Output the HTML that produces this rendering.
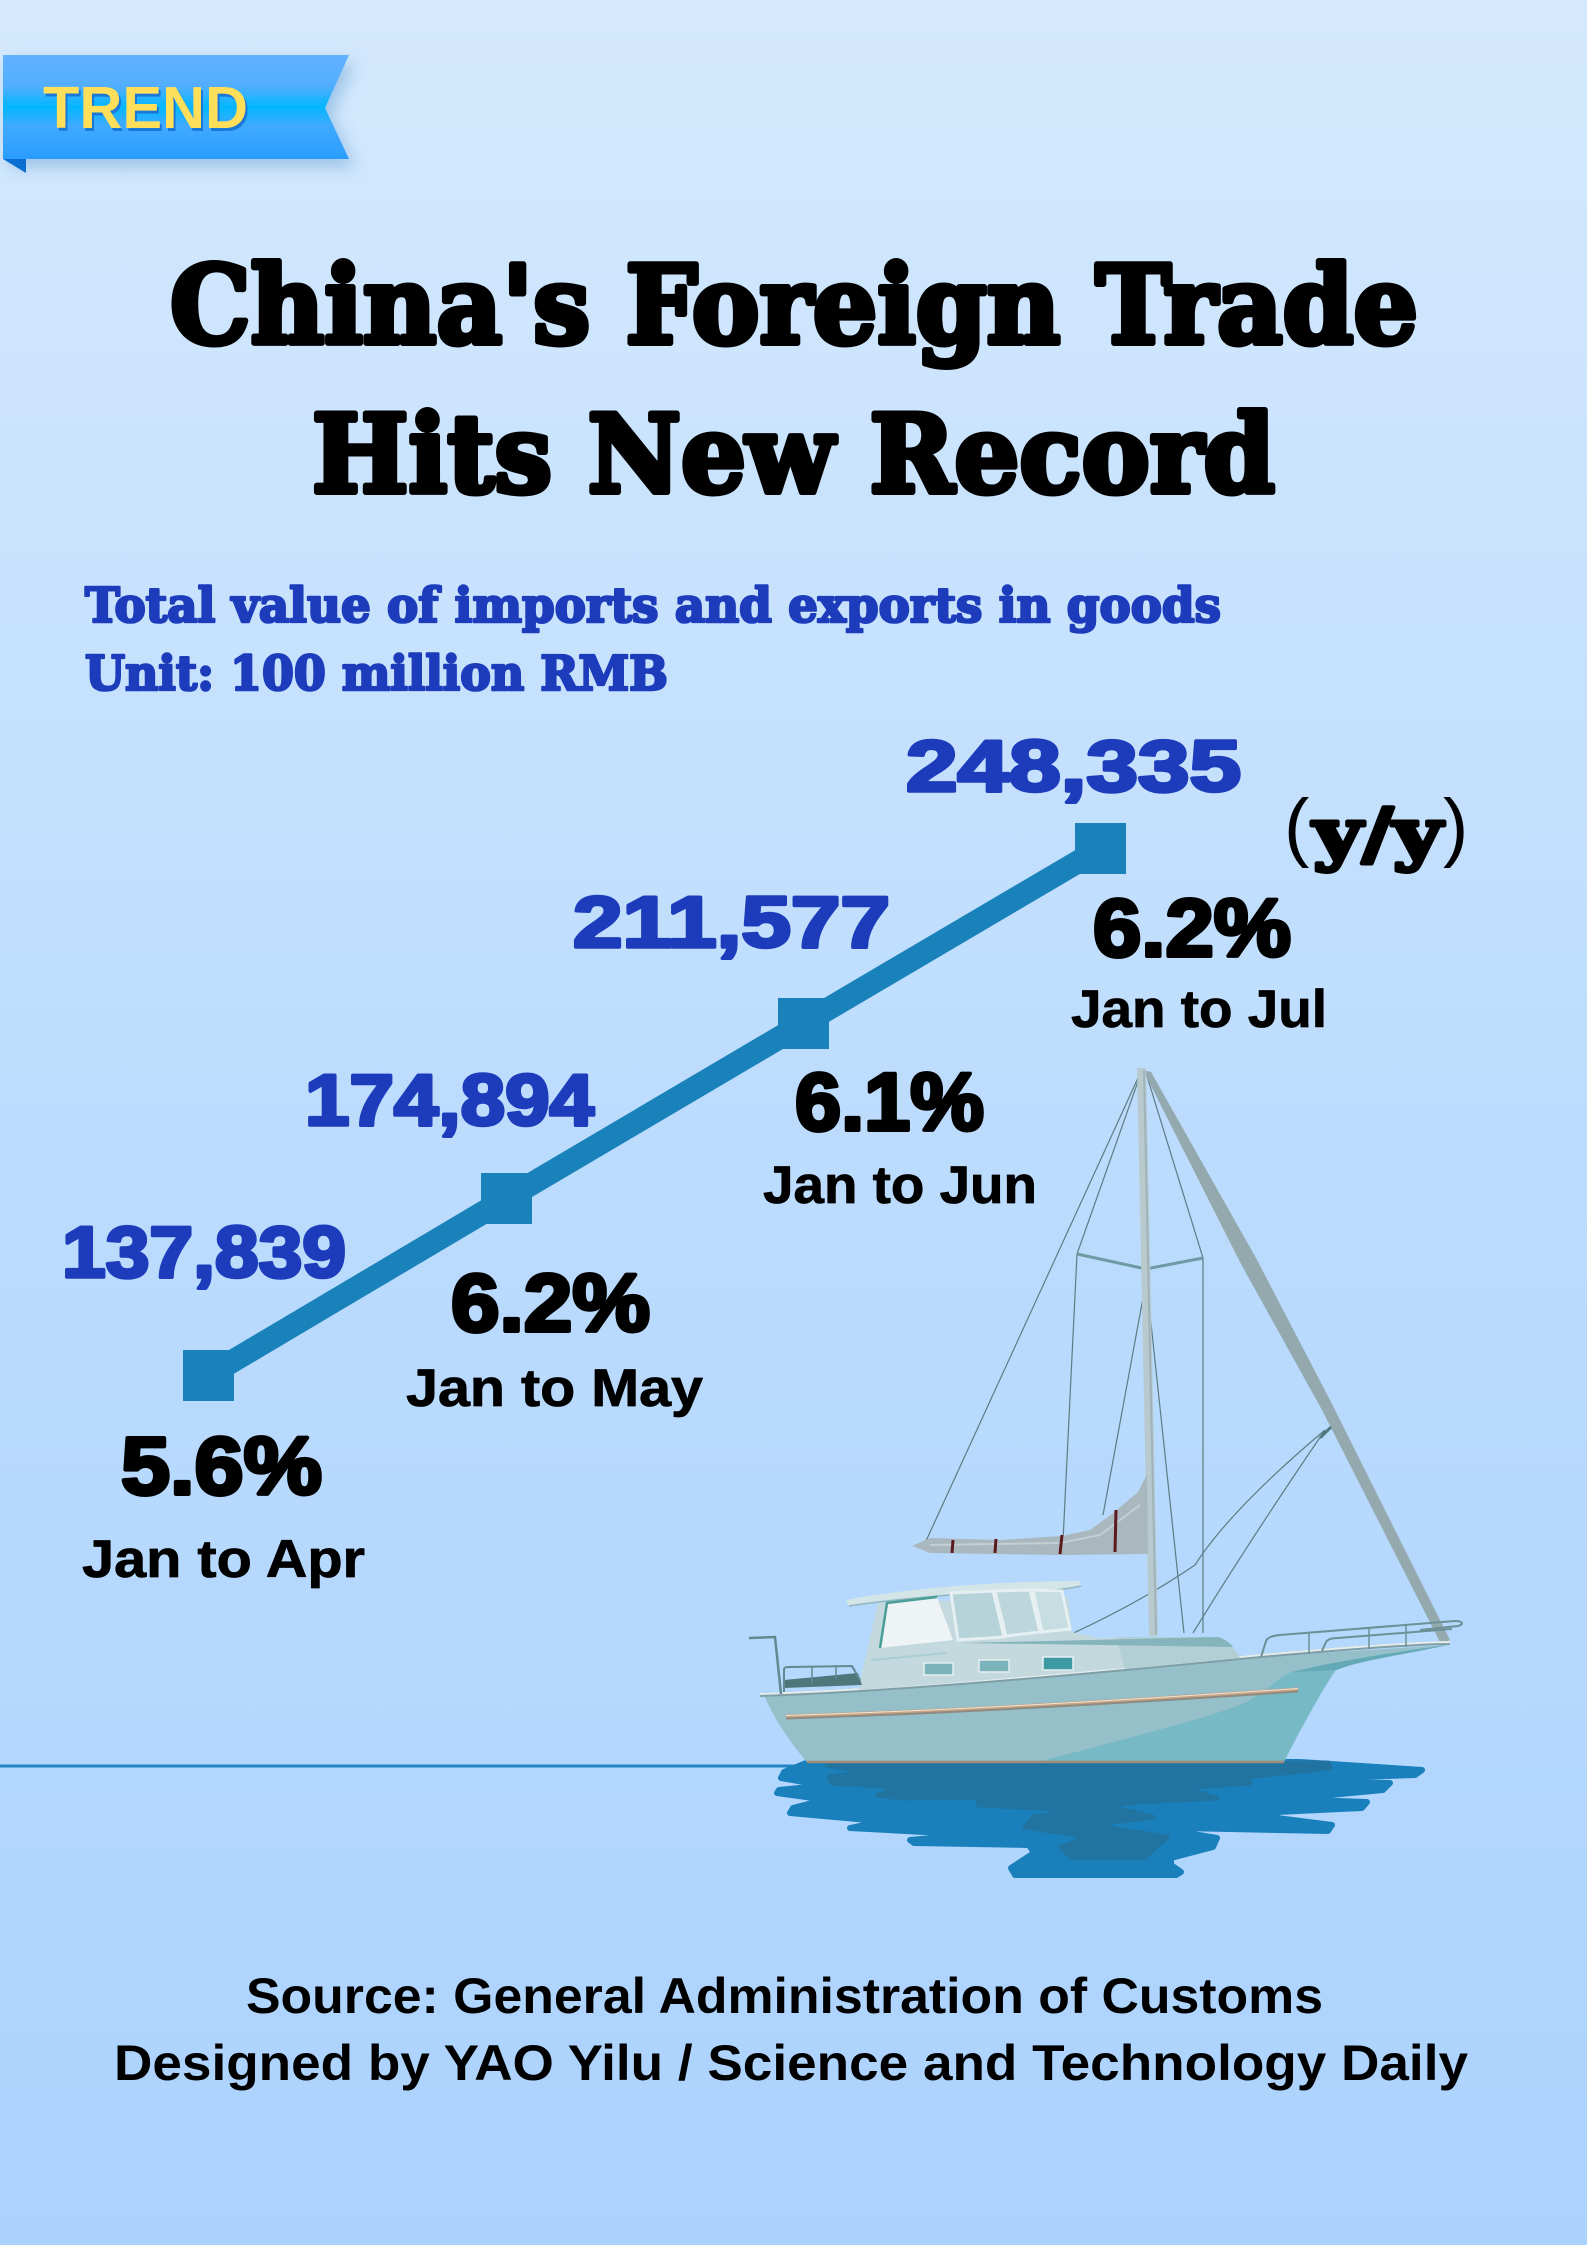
<!DOCTYPE html>
<html><head><meta charset="utf-8">
<style>
html,body{margin:0;padding:0;background:#c0defd;}
svg{display:block;}
.num{font-family:"Liberation Sans",sans-serif;font-weight:bold;font-size:72px;fill:#1d3cbc;stroke:#1d3cbc;stroke-width:3.5;stroke-linejoin:round;}
.pct{font-family:"Liberation Sans",sans-serif;font-weight:bold;font-size:82px;fill:#000;stroke:#000;stroke-width:4;stroke-linejoin:round;}
.lab{font-family:"Liberation Sans",sans-serif;font-weight:bold;font-size:53px;fill:#000;stroke:#000;stroke-width:0.8;stroke-linejoin:round;}
.ttl{font-family:"DejaVu Serif","Liberation Serif",serif;font-weight:bold;font-size:108px;fill:#000;stroke:#000;stroke-width:6;stroke-linejoin:round;}
.sub{font-family:"DejaVu Serif","Liberation Serif",serif;font-weight:bold;font-size:48px;fill:#1d3cbc;stroke:#1d3cbc;stroke-width:2.6;stroke-linejoin:round;}
.foot{font-family:"Liberation Sans",sans-serif;font-weight:bold;font-size:50px;fill:#000;}
</style></head>
<body>
<svg width="1587" height="2245" viewBox="0 0 1587 2245" xmlns="http://www.w3.org/2000/svg">
<defs>
<linearGradient id="bg" x1="0" y1="0" x2="0" y2="1">
<stop offset="0" stop-color="#d4e9fd"/>
<stop offset="0.5" stop-color="#bddcfd"/>
<stop offset="1" stop-color="#abd3fe"/>
</linearGradient>
<linearGradient id="badge" x1="0" y1="0" x2="0" y2="1">
<stop offset="0" stop-color="#62b1ff"/>
<stop offset="0.3" stop-color="#52aeff"/>
<stop offset="0.5" stop-color="#03b7ff"/>
<stop offset="0.68" stop-color="#40aaff"/>
<stop offset="1" stop-color="#2a9dff"/>
</linearGradient>
<filter id="sh" x="-20%" y="-30%" width="150%" height="180%">
<feDropShadow dx="6" dy="8" stdDeviation="8" flood-color="#3a7fc0" flood-opacity="0.35"/>
</filter>
</defs>
<rect width="1587" height="2245" fill="url(#bg)"/>

<!-- TREND badge -->
<polygon points="3,55 349,55 325,108 349,159 3,159" fill="url(#badge)" filter="url(#sh)"/>
<polygon points="3,159 26,159 26,173" fill="#0a6fd0"/>
<text x="45" y="131" textLength="205" lengthAdjust="spacingAndGlyphs" font-family="Liberation Sans, sans-serif" font-weight="bold" font-size="59" fill="#1a78d8">TREND</text>
<text x="43" y="128" textLength="205" lengthAdjust="spacingAndGlyphs" font-family="Liberation Sans, sans-serif" font-weight="bold" font-size="59" fill="#ffdf5a">TREND</text>

<!-- Title -->
<text class="ttl" x="170" y="343" textLength="1248" lengthAdjust="spacingAndGlyphs">China's Foreign Trade</text>
<text class="ttl" x="312" y="492" textLength="963" lengthAdjust="spacingAndGlyphs">Hits New Record</text>

<!-- Subtitle -->
<text class="sub" x="85" y="622" textLength="1136" lengthAdjust="spacingAndGlyphs">Total value of imports and exports in goods</text>
<text class="sub" x="85" y="690" textLength="583" lengthAdjust="spacingAndGlyphs">Unit: 100 million RMB</text>

<!-- Chart line -->
<polyline points="208.5,1375.5 506.5,1198.7 803.5,1023.5 1100.5,848.5" fill="none" stroke="#1a82bb" stroke-width="23"/>
<rect x="183" y="1350" width="51" height="51" fill="#1a82bb"/>
<rect x="481" y="1173" width="51" height="51" fill="#1a82bb"/>
<rect x="778" y="998" width="51" height="51" fill="#1a82bb"/>
<rect x="1075" y="823" width="51" height="51" fill="#1a82bb"/>

<!-- Values -->
<text class="num" x="906" y="791" textLength="335" lengthAdjust="spacingAndGlyphs">248,335</text>
<text class="num" x="573" y="947" textLength="317" lengthAdjust="spacingAndGlyphs">211,577</text>
<text class="num" x="305" y="1125" textLength="289" lengthAdjust="spacingAndGlyphs">174,894</text>
<text class="num" x="62" y="1277" textLength="284" lengthAdjust="spacingAndGlyphs">137,839</text>

<!-- (y/y) -->
<text x="1284" y="852" font-family="Liberation Sans, sans-serif" font-size="76" fill="#000">(</text>
<text x="1313" y="857" textLength="129" lengthAdjust="spacingAndGlyphs" font-family="DejaVu Serif, serif" font-weight="bold" font-size="68" fill="#000" stroke="#000" stroke-width="4" stroke-linejoin="round">y/y</text>
<text x="1443" y="852" font-family="Liberation Sans, sans-serif" font-size="76" fill="#000">)</text>

<!-- Percentages -->
<text class="pct" x="1093" y="956" textLength="198" lengthAdjust="spacingAndGlyphs">6.2%</text>
<text class="pct" x="795" y="1130" textLength="189" lengthAdjust="spacingAndGlyphs">6.1%</text>
<text class="pct" x="451" y="1331" textLength="199" lengthAdjust="spacingAndGlyphs">6.2%</text>
<text class="pct" x="121" y="1494" textLength="201" lengthAdjust="spacingAndGlyphs">5.6%</text>

<!-- Labels -->
<text class="lab" x="1071" y="1027" textLength="256" lengthAdjust="spacingAndGlyphs">Jan to Jul</text>
<text class="lab" x="763" y="1203" textLength="274" lengthAdjust="spacingAndGlyphs">Jan to Jun</text>
<text class="lab" x="406" y="1406" textLength="297" lengthAdjust="spacingAndGlyphs">Jan to May</text>
<text class="lab" x="82" y="1577" textLength="283" lengthAdjust="spacingAndGlyphs">Jan to Apr</text>

<!-- Water line -->
<line x1="0" y1="1766" x2="800" y2="1766" stroke="#2584c2" stroke-width="3"/>

<!-- Water reflection -->
<path d="M806,1763 L1300,1762 L1422,1770 L1415,1775 L1332,1778 L1328,1782 L1390,1783 L1383,1790 L1309,1797 L1309,1800 L1367,1802 L1362,1808 L1277,1812 L1277,1818 L1332,1825 L1328,1831 L1181,1828 L1181,1832 L1217,1838 L1213,1847 L1171,1858 L1171,1865 L1181,1872 L1176,1875 L1015,1875 L1011,1868 L1034,1853 L1029,1845 L914,1843 L910,1840 L944,1837 L942,1833 L850,1828 L873,1823 L868,1820 L790,1813 L793,1808 L816,1802 L813,1798 L777,1793 L779,1790 L809,1787 L804,1782 L781,1778 L784,1772 Z" fill="#1a80bb" stroke="#1a80bb" stroke-width="6" stroke-linejoin="round"/>
<path d="M827,1765 L1328,1763 L1330,1768 L1245,1777 L1250,1783 L1181,1788 L1217,1798 L1139,1802 L1103,1805 L1153,1817 L1107,1823 L1103,1827 L1167,1837 L1144,1858 L1071,1857 L1061,1847 L1089,1837 L1025,1827 L1034,1817 L1080,1810 L979,1805 L977,1800 L1015,1797 L901,1798 L878,1795 L901,1787 L832,1783 L830,1777 L868,1772 Z" fill="#2173a0" stroke="#2173a0" stroke-width="5" stroke-linejoin="round"/>

<!-- Sailboat rigging -->
<g fill="none" stroke="#5d7c82" stroke-width="1.2">
<path d="M1141,1073 L1077,1254 L1063,1541"/>
<path d="M1146,1073 L1203,1258 L1203,1633"/>
<path d="M1138,1078 L926,1541"/>
<path d="M1143,1298 L1103,1515"/>
<path d="M1148,1295 L1184,1633"/>
<path d="M1325,1430 Q1250,1540 1193,1633"/>
<path d="M1325,1430 Q1230,1510 1195,1565 Q1100,1630 952,1682"/>
</g>
<path d="M1077,1254 L1146,1269 L1203,1258" fill="none" stroke="#6e9aa3" stroke-width="3"/>
<!-- forestay furled sail -->
<polygon points="1143,1070 1151,1072 1256,1258 1330,1400 1450,1640 1441,1644 1322,1410 1241,1264" fill="#93a9ae"/>
<line x1="1320" y1="1438" x2="1331" y2="1427" stroke="#4f7880" stroke-width="3"/>
<!-- mast -->
<polygon points="1137,1068 1146,1068 1158,1636 1149,1636" fill="#b8cace"/>
<line x1="1144" y1="1070" x2="1156" y2="1634" stroke="#9fb3b9" stroke-width="2"/>
<!-- furled main on boom -->
<path d="M912,1546 L930,1538 L1000,1540 L1062,1536 L1090,1530 L1112,1514 L1138,1492 L1147,1474 L1148,1554 L1060,1555 L930,1553 Z" fill="#a9b8be"/>
<path d="M930,1545 L1060,1543 L1100,1535 L1140,1505" fill="none" stroke="#c4cfd3" stroke-width="2"/>
<g stroke="#5a1a1e" stroke-width="3">
<line x1="953" y1="1540" x2="952" y2="1553"/>
<line x1="996" y1="1539" x2="995" y2="1553"/>
<line x1="1062" y1="1535" x2="1060" y2="1554"/>
<line x1="1116" y1="1510" x2="1115" y2="1552"/>
</g>

<!-- Hull -->
<path d="M765,1695 L951,1683 L1240,1658 L1447,1645 C1420,1652 1360,1658 1337,1668 C1322,1690 1300,1730 1284,1762 L807,1762 C788,1740 773,1716 765,1697 Z" fill="#95bfc9"/>
<path d="M1038,1762 C1140,1735 1230,1712 1250,1700 C1270,1688 1280,1676 1292,1672 C1340,1660 1400,1652 1447,1645 C1420,1652 1360,1658 1337,1668 C1322,1690 1300,1730 1284,1762 Z" fill="#78b9c6"/>
<path d="M1292,1672 C1340,1660 1400,1652 1447,1645 C1420,1652 1360,1660 1337,1670 Z" fill="#64aab6"/>
<path d="M760,1695 C900,1690 1100,1672 1250,1657 C1350,1648 1420,1643 1450,1643" fill="none" stroke="#7f9fa6" stroke-width="4"/>
<path d="M760,1694 C900,1689 1100,1671 1250,1656 C1350,1647 1420,1642 1450,1642" fill="none" stroke="#e4ecee" stroke-width="2"/>
<path d="M786,1717 C950,1712 1150,1700 1298,1690" fill="none" stroke="#8f8a80" stroke-width="5"/>
<path d="M786,1716 C950,1711 1150,1699 1298,1689" fill="none" stroke="#c7a585" stroke-width="3"/>
<path d="M786,1715.5 C950,1710.5 1150,1698.5 1298,1688.5" fill="none" stroke="#efe3d4" stroke-width="1"/>
<line x1="807" y1="1762" x2="1284" y2="1762" stroke="#a08c78" stroke-width="2.5"/>

<!-- Cabin -->
<path d="M859,1690 L862,1672 L878,1603 L1068,1597 L1072,1632 L1100,1638 L1218,1637 C1228,1640 1236,1650 1240,1658 L951,1683 Z" fill="#c3d9de"/>
<path d="M1116,1637 L1218,1637 C1228,1640 1236,1650 1240,1658 L1125,1669 Z" fill="#b2cfd5"/>
<path d="M960,1643 L1218,1637 C1225,1639 1230,1643 1233,1647 L1100,1645 Z" fill="#86b4bc"/>
<path d="M846,1600 C900,1589 1000,1581 1080,1581 L1081,1586 C1070,1588 1060,1590 1050,1590 C990,1591 910,1597 849,1606 Z" fill="#d4e5e8"/>
<path d="M849,1606 C910,1597 990,1591 1050,1590 C1060,1590 1072,1588 1081,1586" fill="none" stroke="#8fb7be" stroke-width="1.5"/>
<polygon points="880,1648 887,1603 937,1597 953,1640" fill="#eef3f5"/>
<path d="M880,1648 L887,1603 L937,1597" fill="none" stroke="#4a9e98" stroke-width="2.5"/>
<polygon points="951,1593 993,1591 1004,1637 958,1640" fill="#b5d3d9" stroke="#e6eff1" stroke-width="3"/>
<polygon points="995,1591 1030,1590 1040,1632 1006,1636" fill="#bcd7dc" stroke="#e6eff1" stroke-width="3"/>
<polygon points="1033,1590 1062,1591 1070,1629 1042,1632" fill="#c6dde1" stroke="#e6eff1" stroke-width="3"/>
<line x1="871" y1="1660" x2="947" y2="1653" stroke="#aacdd3" stroke-width="2"/>
<rect x="924" y="1663" width="29" height="12" fill="#7cb2ba" stroke="#e6eff1" stroke-width="1.5"/>
<rect x="979" y="1660" width="30" height="12" fill="#7cb2ba" stroke="#e6eff1" stroke-width="1.5"/>
<rect x="1043" y="1657" width="30" height="13" fill="#3d9aa3" stroke="#e6eff1" stroke-width="1.5"/>
<!-- stern seat & rail -->
<polygon points="784,1688 784,1680 858,1673 862,1685" fill="#4e767b"/>
<path d="M784,1692 L784,1670 C784,1667 786,1667 790,1667 L852,1666 L860,1680" fill="none" stroke="#5f8a8f" stroke-width="2"/>
<line x1="812" y1="1667" x2="812" y2="1684" stroke="#5f8a8f" stroke-width="1.5"/>
<line x1="836" y1="1666" x2="836" y2="1679" stroke="#5f8a8f" stroke-width="1.5"/>
<path d="M749,1638 L775,1637 L781,1694" fill="none" stroke="#5f8a8f" stroke-width="2.5"/>
<!-- bow rail -->
<path d="M1261,1657 L1266,1641 C1268,1637 1272,1636 1280,1635 L1455,1621 C1462,1621 1465,1624 1458,1626 L1420,1630" fill="none" stroke="#6c9095" stroke-width="2"/>
<path d="M1322,1651 L1326,1642 C1328,1639 1332,1638 1338,1638 L1452,1629" fill="none" stroke="#6c9095" stroke-width="2"/>
<line x1="1309" y1="1654" x2="1309" y2="1632" stroke="#6c9095" stroke-width="1.5"/>
<line x1="1369" y1="1649" x2="1369" y2="1627" stroke="#6c9095" stroke-width="1.5"/>
<line x1="1406" y1="1647" x2="1406" y2="1624" stroke="#6c9095" stroke-width="1.5"/>

<!-- Footer -->
<text class="foot" x="246" y="2013" textLength="1077" lengthAdjust="spacingAndGlyphs">Source: General Administration of Customs</text>
<text class="foot" x="114" y="2080" textLength="1354" lengthAdjust="spacingAndGlyphs">Designed by YAO Yilu / Science and Technology Daily</text>
</svg>
</body></html>
